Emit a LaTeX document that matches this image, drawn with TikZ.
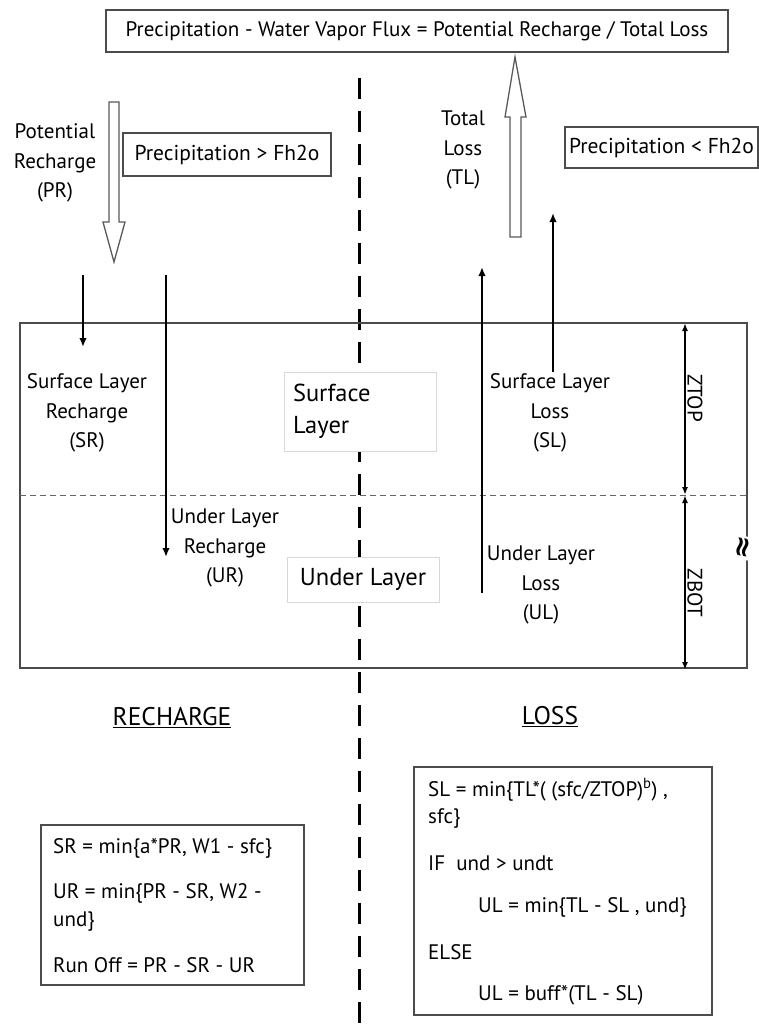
\documentclass[tikz,border=0pt]{standalone}
\usepackage{fontspec}
\setmainfont{PT Sans}
\newfontfamily\djv{DejaVu Sans}
\usetikzlibrary{arrows.meta}
\begin{document}
\begin{tikzpicture}[x=1pt,y=-1pt,
  frame/.style={draw=black!70, line width=1.3pt, inner sep=0pt},
  txt/.style={inner sep=0pt, font=\fontsize{21}{29.5}\selectfont, align=center},
  eq/.style={inner sep=0pt, anchor=west, font=\fontsize{21}{23}\selectfont},
  flow/.style={line width=2.5pt, -{Latex[length=9pt,width=7.5pt]}},
  dimarrow/.style={line width=2pt, {Latex[length=8pt,width=6pt]}-{Latex[length=8pt,width=6pt]}},
  hollow/.style={draw=black!65, line width=1.3pt, fill=white, line join=miter},
  layerbox/.style={draw=black!15, line width=1pt, fill=white, inner sep=0pt},
]
\useasboundingbox (0,0) rectangle (759,1034);

% centre divider
\coordinate (d0) at (359,78);
\coordinate (d1) at (359,1034);
\draw[line width=3pt, dash pattern=on 21pt off 12pt] (d0) -- (d1);

% top equation box
\node[frame, minimum width=622pt, minimum height=42pt, font=\fontsize{21}{24}\selectfont] (top) at (417,31)
  {Precipitation - Water Vapor Flux = Potential Recharge / Total Loss};

% potential recharge hollow arrow
\draw[hollow] (109,102) -- (119,102) -- (119,222) -- (125,222) -- (114,262) -- (103,222) -- (109,222) -- cycle;
\node[txt] (pr) at (55,163) {Potential\\Recharge\\(PR)};
\node[frame, minimum width=208pt, minimum height=43pt, font=\fontsize{21.5}{24}\selectfont] (c1) at (227,154.5) {Precipitation > Fh2o};

% total loss hollow arrow
\draw[hollow] (510,237) -- (521,237) -- (521,117) -- (526,117) -- (515,57) -- (505,117) -- (510,117) -- cycle;
\node[txt] (tl) at (463,150) {Total\\Loss\\(TL)};
\node[frame, minimum width=193pt, minimum height=41pt, font=\fontsize{21.5}{24}\selectfont] (c2) at (661.5,147.5) {Precipitation < Fh2o};

% soil column
\node[frame, minimum width=727pt, minimum height=345pt] (soil) at (383.5,495.5) {};
\coordinate (h0) at (20,495);
\coordinate (h1) at (747,495);
\draw[draw=black!60, line width=1pt, dash pattern=on 6pt off 4pt] (h0) -- (h1);

\node[layerbox, minimum width=152pt, minimum height=79pt, text width=134pt, align=left,
  font=\fontsize{24.5}{32}\selectfont] (surf) at (360,411.5) {Surface\\Layer};
\node[layerbox, minimum width=152pt, minimum height=45pt, font=\fontsize{24.5}{27}\selectfont] (under) at (363,579.5) {Under Layer};

% labels
\node[txt] (srl) at (87,413) {Surface Layer\\Recharge\\(SR)};
\node[txt] (url) at (225,548) {Under Layer\\Recharge\\(UR)};
\node[txt] (sll) at (550,413) {Surface Layer\\Loss\\(SL)};
\node[txt] (ull) at (541,585) {Under Layer\\Loss\\(UL)};

% flow arrows
\coordinate (sr0) at (83,275);  \coordinate (sr1) at (83,347);
\coordinate (ur0) at (166,275); \coordinate (ur1) at (166,557);
\coordinate (ul0) at (482,593); \coordinate (ul1) at (482,267);
\coordinate (sl0) at (553,372); \coordinate (sl1) at (553,213);
\draw[flow] (sr0) -- (sr1);
\draw[flow] (ur0) -- (ur1);
\draw[flow] (ul0) -- (ul1);
\draw[flow] (sl0) -- (sl1);

% depth dimensions
\coordinate (z0) at (685,323);
\coordinate (z1) at (685,495);
\coordinate (z2) at (685,670);
\draw[dimarrow] (z0) -- (z1);
\draw[dimarrow] (z1) -- (z2);
\node[inner sep=0pt, rotate=-90, font=\fontsize{21}{24}\selectfont] (ztop) at (695,398) {ZTOP};
\node[inner sep=0pt, rotate=-90, font=\fontsize{21}{24}\selectfont] (zbot) at (695,593) {ZBOT};
\node[fill=white, inner sep=0pt, rotate=80, font=\djv\bfseries\fontsize{28}{30}\selectfont] (brk) at (744,548) {≈};

% headings
\node[inner sep=0pt, font=\fontsize{25.5}{28}\selectfont] (rech) at (172,718) {\underline{RECHARGE}};
\node[inner sep=0pt, font=\fontsize{25.5}{28}\selectfont] (loss) at (550,717) {\underline{LOSS}};

% recharge equations
\node[frame, minimum width=263pt, minimum height=160pt] (rbox) at (172.5,905) {};
\node[eq] (r1) at (53,848) {SR = min\{a*PR, W1 - sfc\}};
\node[eq] (r2) at (53,893) {UR = min\{PR - SR, W2 -};
\node[eq] (r3) at (53,922) {und\}};
\node[eq] (r4) at (53,965) {Run Off = PR - SR - UR};

% loss equations
\node[frame, minimum width=298pt, minimum height=248pt] (lbox) at (563,891) {};
\node[eq] (l1) at (428,790) {SL = min\{TL*( (sfc/ZTOP)\textsuperscript{b}) ,};
\node[eq] (l2) at (428,818) {sfc\}};
\node[eq] (l3) at (428,863) {IF\ \ und > undt};
\node[eq] (l4) at (478,907) {UL = min\{TL - SL , und\}};
\node[eq] (l5) at (428,952) {ELSE};
\node[eq] (l6) at (478,995) {UL = buff*(TL - SL)};
\end{tikzpicture}
\end{document}
